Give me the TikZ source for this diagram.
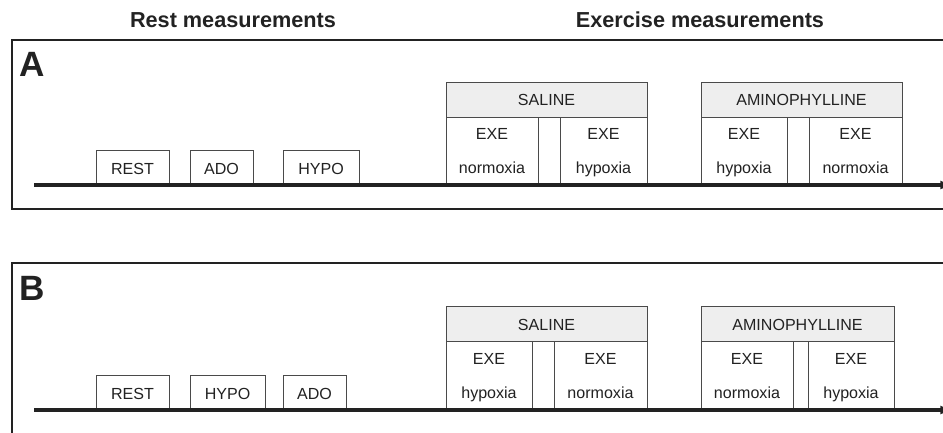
\documentclass[tikz,border=0pt]{standalone}
\usepackage{fontspec}
\setmainfont{Liberation Sans}
\usetikzlibrary{arrows.meta}
\definecolor{boxline}{HTML}{4A4A4A}
\definecolor{headfill}{HTML}{EEEEEE}
\definecolor{inktext}{HTML}{222222}

\tikzset{
  stagebox/.style={draw=boxline,line width=0.8pt,fill=white},
  drughead/.style={draw=boxline,line width=0.8pt,fill=headfill},
  stagetext/.style={font=\fontsize{13.7}{16}\selectfont,text=inktext,anchor=base,inner sep=0pt},
  titletext/.style={font=\fontsize{18.5}{22}\selectfont\bfseries,text=inktext,anchor=base,inner sep=0pt},
  paneltext/.style={font=\fontsize{30}{34}\selectfont\bfseries,text=inktext,anchor=base west,inner sep=0pt},
  panelframe/.style={draw=inktext,line width=2.1pt},
  timeline/.style={draw=inktext,line width=3pt,-{Latex[length=10pt,width=8pt]}}
}

\begin{document}
\begin{tikzpicture}[x=0.3mm,y=-0.3mm]

  % ---- Canvas (pixel grid, y downwards) ----------------------
  \clip (0,0) rectangle (943,432);
  \fill[white] (0,0) rectangle (943,432);

  % ---- Column titles -----------------------------------------
  \node[titletext] (restTitle) at (233,27) {Rest measurements};
  \node[titletext] (exeTitle)  at (700,27) {Exercise measurements};

  % ---- Panel A -----------------------------------------------
  \draw[panelframe] (12,40) rectangle (970,209);
  \node[paneltext] (labA) at (19,76) {A};
  % Rest stages
  \draw[stagebox] (96,150) rectangle (169,185);
  \node[stagetext] (restA) at (132.5,174) {REST};
  \draw[stagebox] (190,150) rectangle (253,185);
  \node[stagetext] (adoA) at (221.5,174) {ADO};
  \draw[stagebox] (283,150) rectangle (359,185);
  \node[stagetext] (hypoA) at (321,174) {HYPO};
  % Saline block
  \draw[drughead] (446,82) rectangle (647,117);
  \node[stagetext] (salineA) at (546.5,105.7) {SALINE};
  \draw[stagebox] (446,117) rectangle (538,185);
  \node[stagetext] (salExeA1) at (492,139.5) {EXE};
  \node[stagetext] (salCondA1) at (492,173) {normoxia};
  \draw[stagebox] (560,117) rectangle (647,185);
  \node[stagetext] (salExeA2) at (603.5,139.5) {EXE};
  \node[stagetext] (salCondA2) at (603.5,173) {hypoxia};
  % Aminophylline block
  \draw[drughead] (701,82) rectangle (902,117);
  \node[stagetext] (aminoA) at (801.5,105.7) {AMINOPHYLLINE};
  \draw[stagebox] (701,117) rectangle (787,185);
  \node[stagetext] (amiExeA1) at (744,139.5) {EXE};
  \node[stagetext] (amiCondA1) at (744,173) {hypoxia};
  \draw[stagebox] (809,117) rectangle (902,185);
  \node[stagetext] (amiExeA2) at (855.5,139.5) {EXE};
  \node[stagetext] (amiCondA2) at (855.5,173) {normoxia};
  % Time axis
  \coordinate (startA) at (34,185);
  \coordinate (endA)   at (952,185);
  \draw[timeline] (startA) -- (endA);

  % ---- Panel B -----------------------------------------------
  \draw[panelframe] (12,263) rectangle (970,440);
  \node[paneltext] (labB) at (19,300) {B};
  % Rest stages
  \draw[stagebox] (96,375) rectangle (169,410);
  \node[stagetext] (restB) at (132.5,399) {REST};
  \draw[stagebox] (190,375) rectangle (265,410);
  \node[stagetext] (hypoB) at (227.5,399) {HYPO};
  \draw[stagebox] (283,375) rectangle (346,410);
  \node[stagetext] (adoB) at (314.5,399) {ADO};
  % Saline block
  \draw[drughead] (446,306) rectangle (647,341);
  \node[stagetext] (salineB) at (546.5,330.5) {SALINE};
  \draw[stagebox] (446,341) rectangle (532,410);
  \node[stagetext] (salExeB1) at (489,364.5) {EXE};
  \node[stagetext] (salCondB1) at (489,398) {hypoxia};
  \draw[stagebox] (554,341) rectangle (647,410);
  \node[stagetext] (salExeB2) at (600.5,364.5) {EXE};
  \node[stagetext] (salCondB2) at (600.5,398) {normoxia};
  % Aminophylline block
  \draw[drughead] (701,306) rectangle (894,341);
  \node[stagetext] (aminoB) at (797.5,330.5) {AMINOPHYLLINE};
  \draw[stagebox] (701,341) rectangle (793,410);
  \node[stagetext] (amiExeB1) at (747,364.5) {EXE};
  \node[stagetext] (amiCondB1) at (747,398) {normoxia};
  \draw[stagebox] (808,341) rectangle (894,410);
  \node[stagetext] (amiExeB2) at (851,364.5) {EXE};
  \node[stagetext] (amiCondB2) at (851,398) {hypoxia};
  % Time axis
  \coordinate (startB) at (34,410);
  \coordinate (endB)   at (952,410);
  \draw[timeline] (startB) -- (endB);

\end{tikzpicture}
\end{document}
